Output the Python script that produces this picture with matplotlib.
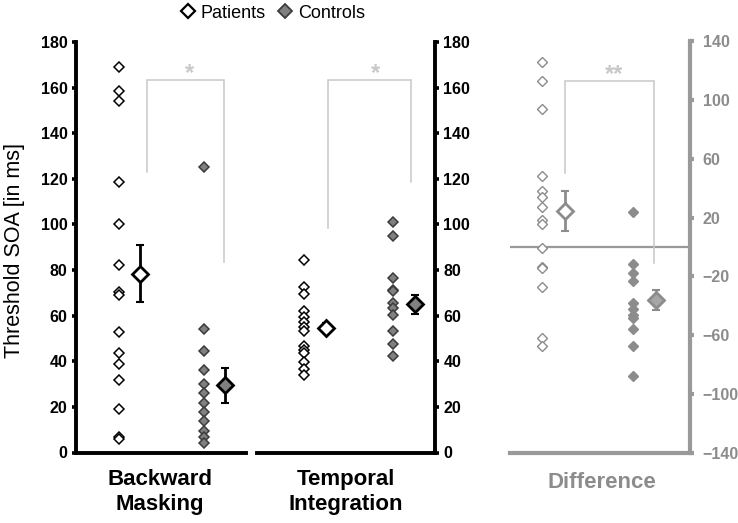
import matplotlib
matplotlib.use("Agg")
import matplotlib.pyplot as plt
from matplotlib.lines import Line2D

plt.rcParams['font.family'] = ['Liberation Sans', 'DejaVu Sans']

# ---- data ----
bm_patients = [169, 158.5, 154, 118.5, 100, 82, 70.5, 69, 53, 43.5, 39, 32, 19, 7, 6]
bm_controls = [125, 54, 44.5, 36.3, 30.2, 26.2, 21.8, 17.7, 14, 9.6, 6.7, 4.1]
ti_patients = [84.3, 72.6, 69.7, 61.9, 59.4, 57.2, 55, 53.3, 46.7, 44.8, 43.6, 39.6, 36.7, 33.8]
ti_controls = [101.1, 94.8, 76.7, 71.4, 70.7, 65.5, 63.3, 60.4, 53.1, 47.7, 42.1]
diff_patients = [125.6, 113, 93.5, 48.5, 38, 34, 27.5, 18.5, 15.5, -1, -13.5, -14.5, -27, -62, -67]
diff_controls = [23.5, -11.5, -18, -23, -38, -42, -46, -48, -56, -67, -88]

# group means and standard errors
bm_mean = [78.4, 29.5]
bm_err = [12.6, 7.7]
ti_mean = [54.5, 64.9]
ti_err = [2.2, 4.3]
diff_mean = [24.3, -35.7]
diff_err = [13.6, 6.8]

yticks_main = [0, 20, 40, 60, 80, 100, 120, 140, 160, 180]
yticks_diff = [-140, -100, -60, -20, 20, 60, 100, 140]

legend_labels = ["Patients", "Controls"]
panel_labels = ["Backward\nMasking", "Temporal\nIntegration", "Difference"]
stars = ["*", "*", "**"]

# ---- style ----
DARK = "black"
CTRL_FILL = "#808080"
CTRL_EDGE = "#3c3c3c"
GREY = "#999999"
GREY_MARK = "#8c8c8c"
BRACKET = "#c8c8c8"
TICK_FS = 11.5

fig = plt.figure(figsize=(7.38, 5.23), dpi=100)
H = 523.0
W = 738.0

def pos(x0, x1, ytop, ybot):
    return [x0 / W, 1 - ybot / H, (x1 - x0) / W, (ybot - ytop) / H]

ax1 = fig.add_axes(pos(76, 246, 42, 452.5))
ax2 = fig.add_axes(pos(257, 435, 42, 452.5))
ax3 = fig.add_axes(pos(510, 690, 41, 453))

def draw_panel(ax, pats, ctrls, means, errs, edge_p, fill_c, edge_c, mean_fill_c, err_col, small_lw):
    ax.plot([1] * len(pats), pats, ls='none', marker='D', ms=4.6, mfc='white',
            mec=edge_p, mew=small_lw, zorder=3)
    ax.plot([3] * len(ctrls), ctrls, ls='none', marker='D', ms=4.6, mfc=fill_c,
            mec=edge_c, mew=small_lw, zorder=3)
    ax.errorbar([1.5], [means[0]], yerr=[errs[0]], fmt='none', ecolor=err_col,
                elinewidth=2.0, capsize=3, capthick=1.5, zorder=4)
    ax.plot([1.5], [means[0]], ls='none', marker='D', ms=8.2, mfc='white',
            mec=err_col, mew=2.0, zorder=5)
    ax.errorbar([3.5], [means[1]], yerr=[errs[1]], fmt='none', ecolor=err_col,
                elinewidth=2.0, capsize=3, capthick=1.5, zorder=4)
    ax.plot([3.5], [means[1]], ls='none', marker='D', ms=8.2, mfc=mean_fill_c,
            mec=err_col, mew=2.0, zorder=5)

def bracket(ax, xl, xr, ytop, yl, yr, star, ystar, xs):
    ax.plot([xl, xl, xr, xr], [yl, ytop, ytop, yr], color=BRACKET, lw=1.1, zorder=1,
            solid_joinstyle='miter')
    ax.text(xs, ystar, star, color=BRACKET, fontsize=17, ha='center', va='center',
            fontweight='bold')

# Panel 1
draw_panel(ax1, bm_patients, bm_controls, bm_mean, bm_err, DARK, CTRL_FILL, CTRL_EDGE,
           CTRL_FILL, DARK, 1.1)
ax1.set_xlim(0, 4)
ax1.set_ylim(0, 180)
bracket(ax1, 1.67, 3.48, 163.3, 123, 83.7, stars[0], 166, 2.68)

# Panel 2
draw_panel(ax2, ti_patients, ti_controls, ti_mean, ti_err, DARK, CTRL_FILL, CTRL_EDGE,
           CTRL_FILL, DARK, 1.1)
ax2.set_xlim(-0.05, 3.95)
ax2.set_ylim(0, 180)
bracket(ax2, 1.55, 3.4, 163.3, 98.5, 118.7, stars[1], 166, 2.62)

# Panel 3
ax3.axhline(0, color=GREY, lw=1.6, zorder=1)
draw_panel(ax3, diff_patients, diff_controls, diff_mean, diff_err, GREY_MARK, GREY_MARK,
           GREY_MARK, "#a6a6a6", GREY_MARK, 1.0)
ax3.set_xlim(0.297, 4.25)
ax3.set_ylim(-140, 140)
bracket(ax3, 1.5, 3.45, 112.7, 50.4, -10.7, stars[2], 117, 2.58)

for ax in (ax1, ax2):
    ax.set_yticks(yticks_main)
    ax.set_xticks([])
    ax.spines['top'].set_visible(False)
    for s in ax.spines.values():
        s.set_linewidth(2.8)
        s.set_color(DARK)
    ax.tick_params(axis='y', length=3, width=2.6, colors=DARK, labelsize=TICK_FS, pad=3)
    for lab in ax.get_yticklabels():
        lab.set_fontweight('bold')

ax1.spines['right'].set_visible(False)
ax2.spines['left'].set_visible(False)
ax2.yaxis.tick_right()
ax2.tick_params(axis='y', length=3, width=2.6, labelsize=TICK_FS, pad=3)
for lab in ax2.get_yticklabels():
    lab.set_fontweight('bold')

ax3.set_yticks(yticks_diff)
ax3.set_xticks([])
ax3.spines['top'].set_visible(False)
ax3.spines['left'].set_visible(False)
for s in ax3.spines.values():
    s.set_linewidth(3.0)
    s.set_color(GREY)
ax3.yaxis.tick_right()
ax3.tick_params(axis='y', length=3, width=3.0, colors=GREY, labelcolor=GREY_MARK,
                labelsize=TICK_FS, pad=6)
for lab in ax3.get_yticklabels():
    lab.set_fontweight('bold')

for ax in (ax1, ax2, ax3):
    ax.patch.set_visible(False)

# y-label
fig.text(15 / W, 1 - 250 / H, "Threshold SOA [in ms]", rotation=90, fontsize=15.5,
         ha='center', va='center')

# panel labels
fig.text(160 / W, 1 - 492 / H, panel_labels[0], fontsize=16, fontweight='bold',
         ha='center', va='center', linespacing=1.3)
fig.text(346 / W, 1 - 492 / H, panel_labels[1], fontsize=16, fontweight='bold',
         ha='center', va='center', linespacing=1.3)
fig.text(602 / W, 1 - 482 / H, panel_labels[2], fontsize=16, fontweight='bold',
         color=GREY_MARK, ha='center', va='center')

# legend
handles = [Line2D([], [], ls='none', marker='D', ms=7, mfc='white', mec=DARK, mew=1.6),
           Line2D([], [], ls='none', marker='D', ms=7, mfc=CTRL_FILL, mec=CTRL_EDGE, mew=1.3)]
fig.legend(handles, legend_labels, loc='center', bbox_to_anchor=(271 / W, 1 - 13 / H),
           ncol=2, frameon=False, fontsize=13, handletextpad=0.1, columnspacing=0.5,
           handlelength=1.2, borderpad=0)

fig.savefig("out.png", dpi=100)
